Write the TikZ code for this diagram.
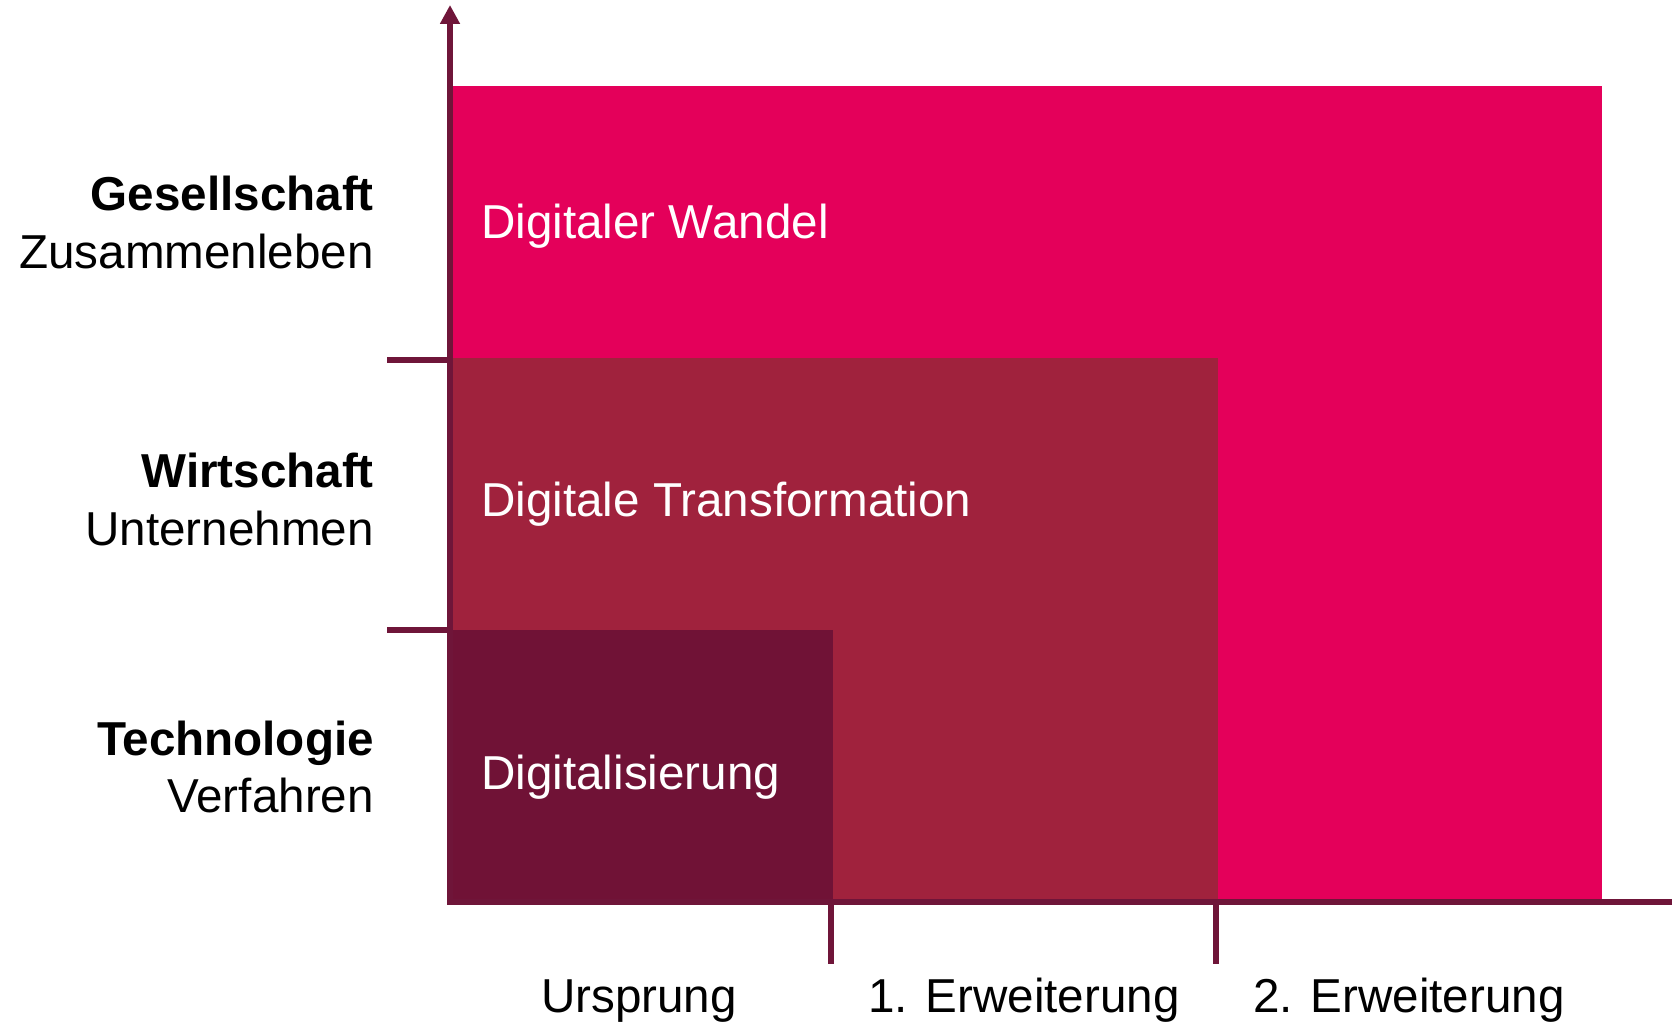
\documentclass[tikz,border=0pt]{standalone}
\usepackage{fontspec}
\setmainfont{Liberation Sans}
\usetikzlibrary{arrows.meta}
\definecolor{bigred}{HTML}{E4005A}
\definecolor{midred}{HTML}{A0223D}
\definecolor{darkred}{HTML}{701236}
\definecolor{axiscol}{HTML}{6F1539}
\begin{document}
\begin{tikzpicture}[x=1pt,y=-1pt,
  lbl/.style={inner sep=0pt,font=\fontsize{47.6}{56}\selectfont},
  inlbl/.style={lbl,text=white,anchor=base west},
  leftb/.style={lbl,anchor=base east,font=\fontsize{47.6}{56}\selectfont\bfseries},
  leftn/.style={lbl,anchor=base east},
  bottom/.style={lbl,anchor=base},
  axisline/.style={draw=axiscol,line width=6pt}]
\useasboundingbox (0,0) rectangle (1672,1024);
% areas
\fill[bigred] (453,86) rectangle (1602,902);
\fill[midred] (453,358) rectangle (1218,902);
\fill[darkred] (447,630) rectangle (833,905);
% axis coordinates
\coordinate (origin) at (450,902);
\coordinate (ytop) at (450,5);
\coordinate (xend) at (1672,902);
\coordinate (ox) at (447,902);
\coordinate (t1a) at (387,360);
\coordinate (t1b) at (450,360);
\coordinate (t2a) at (387,630);
\coordinate (t2b) at (450,630);
\coordinate (t3a) at (831,902);
\coordinate (t3b) at (831,964);
\coordinate (t4a) at (1216,902);
\coordinate (t4b) at (1216,964);
% axes
\draw[axisline,-{Triangle[width=19pt,length=19pt]}] (origin) -- (ytop);
\draw[axisline] (ox) -- (xend);
\draw[axisline] (t1a) -- (t1b);
\draw[axisline] (t2a) -- (t2b);
\draw[axisline] (t3a) -- (t3b);
\draw[axisline] (t4a) -- (t4b);
% labels in areas
\node[inlbl] (wandel) at (481,239) {Digitaler Wandel};
\node[inlbl] (transf) at (481,516) {Digitale Transformation};
\node[inlbl] (digit) at (481,789) {Digitalisierung};
% left labels
\node[leftb] (ges) at (374,211) {Gesellschaft};
\node[leftn] (zus) at (374,269) {Zusammenleben};
\node[leftb] (wir) at (374,487) {Wirtschaft};
\node[leftn] (unt) at (374,545) {Unternehmen};
\node[leftb] (tec) at (374,755) {Technologie};
\node[leftn] (ver) at (374,812) {Verfahren};
% bottom labels
\node[bottom] (urs) at (639,1012) {Ursprung};
\node[bottom] (erw1) at (1024,1012) {1. Erweiterung};
\node[bottom] (erw2) at (1409,1012) {2. Erweiterung};
\end{tikzpicture}
\end{document}
